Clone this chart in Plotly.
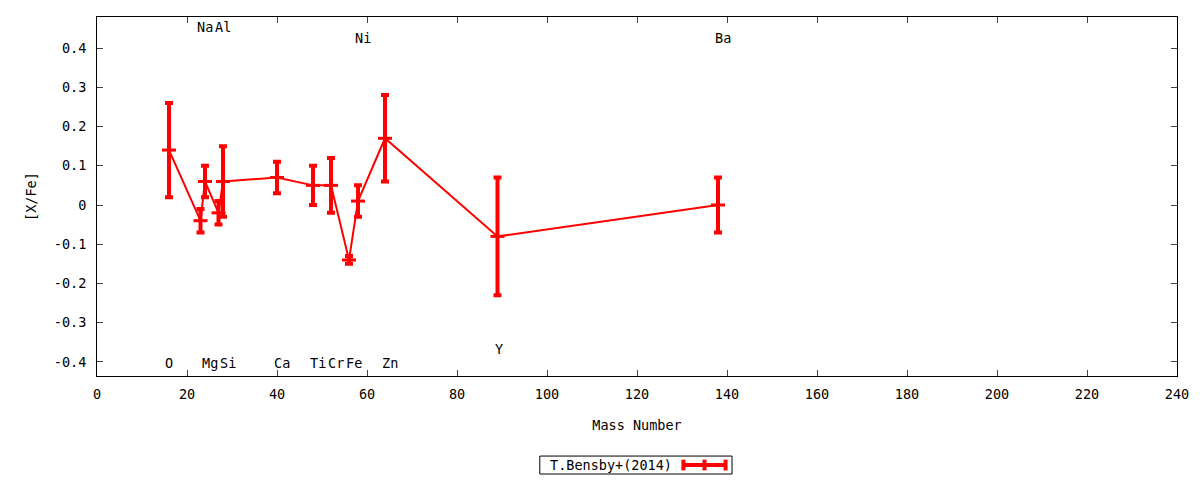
import plotly.graph_objects as go

# T.Bensby+(2014) abundances
mass = [16, 23, 24, 27, 28, 40, 48, 52, 56, 58, 64, 89, 138]
xfe = [0.14, -0.04, 0.06, -0.02, 0.06, 0.07, 0.05, 0.05, -0.14, 0.01, 0.17, -0.08, 0.0]
err = [0.12, 0.03, 0.04, 0.03, 0.09, 0.04, 0.05, 0.07, 0.01, 0.04, 0.11, 0.15, 0.07]

# element labels
elem = ["O", "Na", "Mg", "Al", "Si", "Ca", "Ti", "Cr", "Fe", "Ni", "Zn", "Y", "Ba"]
elem_x = [16, 24, 25, 28, 29, 41, 49, 53, 57, 59, 65, 89.3, 139]
elem_y = [-0.403, 0.453, -0.403, 0.453, -0.403, -0.403, -0.403, -0.403, -0.403, 0.425, -0.403, -0.367, 0.425]

yticks = [-0.4, -0.3, -0.2, -0.1, 0, 0.1, 0.2, 0.3, 0.4]
ytext = ["-0.4", "-0.3", "-0.2", "-0.1", "0", "0.1", "0.2", "0.3", "0.4"]
xticks = list(range(0, 241, 20))

FONT = dict(family="DejaVu Sans Mono", size=13.5, color="black")
RED = "#ff0000"

fig = go.Figure()
fig.add_trace(go.Scatter(
    x=mass, y=xfe, mode="lines+markers", name="T.Bensby+(2014)",
    line=dict(color=RED, width=2),
    marker=dict(symbol="line-ew", size=10, line=dict(color=RED, width=3)),
    error_y=dict(type="data", array=err, color=RED, thickness=4, width=4),
    showlegend=False,
))

for t, x, y in zip(elem, elem_x, elem_y):
    fig.add_annotation(x=x, y=y, text=t, showarrow=False, font=FONT,
                       xanchor="center", yanchor="middle")

# gnuplot style key: text then sample on the right
fig.add_shape(type="rect", xref="paper", yref="paper",
              x0=0.410, x1=0.588, y0=-0.273, y1=-0.223,
              line=dict(color="black", width=1))
fig.add_annotation(xref="paper", yref="paper", x=0.534, y=-0.248,
                   text="T.Bensby+(2014)", showarrow=False, font=FONT,
                   xanchor="right", yanchor="middle")
fig.add_shape(type="line", xref="paper", yref="paper",
              x0=0.543, x1=0.582, y0=-0.248, y1=-0.248,
              line=dict(color=RED, width=4))
for px in [0.543, 0.5625, 0.582]:
    fig.add_shape(type="line", xref="paper", yref="paper",
                  x0=px, x1=px, y0=-0.263, y1=-0.233,
                  line=dict(color=RED, width=4))

fig.update_layout(
    width=1200, height=480,
    margin=dict(l=97, r=23, t=17, b=104),
    plot_bgcolor="white", paper_bgcolor="white",
    font=FONT,
)
fig.update_xaxes(
    range=[0, 240], tickvals=xticks, ticks="inside", ticklen=6,
    mirror="ticks", showline=True, linecolor="black", linewidth=1,
    showgrid=False, zeroline=False, tickfont=FONT, ticklabelstandoff=6,
    title=dict(text="Mass Number", font=FONT, standoff=19),
)
fig.update_yaxes(
    range=[-0.4357, 0.479], tickvals=yticks, ticktext=ytext, ticks="inside",
    ticklen=6, mirror="ticks", showline=True, linecolor="black", linewidth=1,
    showgrid=False, zeroline=False, tickfont=FONT, ticklabelstandoff=7,
    title=dict(text="[X/Fe]", font=FONT, standoff=14),
)

fig.write_html("out.html", config={"displayModeBar": False},
               post_script="document.body.style.margin='0';")
